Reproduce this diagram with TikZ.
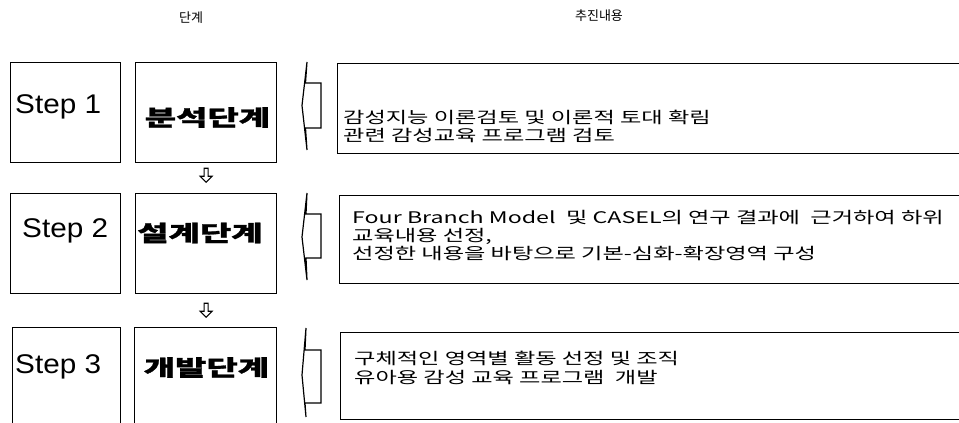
\documentclass[tikz,border=0pt]{standalone}
\usepackage{fontspec}
\usetikzlibrary{calc}
\newfontfamily\krfont{Noto Sans CJK KR}
\newfontfamily\krwide[FakeStretch=1.45]{Noto Sans CJK KR}
\newfontfamily\krstage[FakeStretch=1.55,FakeBold=1.2]{Noto Sans CJK KR}
\newfontfamily\stepfont[FakeStretch=1.1]{Liberation Sans}
\begin{document}
\begin{tikzpicture}[x=1pt,y=-1pt,
  box/.style={draw, line width=1.2pt, rectangle, inner sep=0pt, anchor=north west},
  steptext/.style={font=\stepfont\fontsize{27}{30}\selectfont, inner sep=0pt, anchor=base west},
  stagetext/.style={font=\krstage\bfseries\fontsize{22}{24}\selectfont, inner sep=0pt},
  bodytext/.style={font=\krwide\fontsize{16}{18}\selectfont, inner sep=0pt, anchor=base west},
  headtext/.style={font=\krfont\fontsize{13}{15}\selectfont, inner sep=0pt},
  blockarrow/.style={draw, line width=1.2pt, line join=miter},
  downarrow/.style={draw, line width=1.1pt, line join=miter}]
\useasboundingbox (0,0) rectangle (959,423);

% headers
\node[headtext] (h1) at (191,18) {단계};
\node[headtext] (h2) at (599,16) {추진내용};

% step boxes
\node[box, minimum width=110pt, minimum height=100pt] (s1) at (10,62) {};
\node[box, minimum width=141pt, minimum height=100pt] (a1) at (135,62) {};
\node[box, minimum width=110pt, minimum height=100pt] (s2) at (10,193) {};
\node[box, minimum width=141pt, minimum height=100pt] (a2) at (135,193) {};
\node[box, minimum width=108pt, minimum height=110pt] (s3) at (12,327) {};
\node[box, minimum width=142pt, minimum height=110pt] (a3) at (134,327) {};

\node[steptext] (st1) at (15,113) {Step 1};
\node[steptext] (st2) at (22,237) {Step 2};
\node[steptext] (st3) at (15,373) {Step 3};

\node[stagetext] (n1) at (207.5,117.5) {분석단계};
\node[stagetext] (n2) at (200,233) {설계단계};
\node[stagetext] (n3) at (206.5,367.5) {개발단계};

% down arrows
\coordinate (m1) at ($(a1.south)+(0,5)$);
\coordinate (m2) at ($(a2.south)+(0,9)$);
\draw[downarrow] ([shift={(-2,0)}]m1) -- ++(0,8) -- ++(-4,0) -- ++(6,6) -- ++(6,-6) -- ++(-4,0) -- ++(0,-8) -- cycle;
\draw[downarrow] ([shift={(-2,0)}]m2) -- ++(0,8) -- ++(-4,0) -- ++(6,6) -- ++(6,-6) -- ++(-4,0) -- ++(0,-8) -- cycle;

% content boxes
\node[box, minimum width=640pt, minimum height=90pt] (c1) at (337,63) {};
\node[box, minimum width=640pt, minimum height=88pt] (c2) at (339,195) {};
\node[box, minimum width=640pt, minimum height=87pt] (c3) at (340,332) {};

% block arrows
\draw[blockarrow] (321,83) -- (305.5,83) -- (307,62) -- (302,105.5) -- (307,150) -- (305.5,128) -- (321,128) -- cycle;
\draw[blockarrow] (321,214) -- (306,214) -- (307,193) -- (302,237) -- (307,280) -- (306,258) -- (321,258) -- cycle;
\draw[blockarrow] (321,350) -- (305,350) -- (306,328) -- (302,375) -- (306,417) -- (305,403) -- (321,403) -- cycle;

% content texts
\node[bodytext] (t1a) at (343,123.5) {감성지능 이론검토 및 이론적 토대 확림};
\node[bodytext] (t1b) at (343,141.5) {관련 감성교육 프로그램 검토};
\node[bodytext] (t2a) at (352,223.5) {Four Branch Model\ \ 및 CASEL의 연구 결과에\ \ 근거하여 하위};
\node[bodytext] (t2b) at (352,241.5) {교육내용 선정,};
\node[bodytext] (t2c) at (352,259.5) {선정한 내용을 바탕으로 기본-심화-확장영역 구성};
\node[bodytext] (t3a) at (354,364) {구체적인 영역별 활동 선정 및 조직};
\node[bodytext] (t3b) at (354,383) {유아용 감성 교육 프로그램\ \ 개발};
\end{tikzpicture}
\end{document}
